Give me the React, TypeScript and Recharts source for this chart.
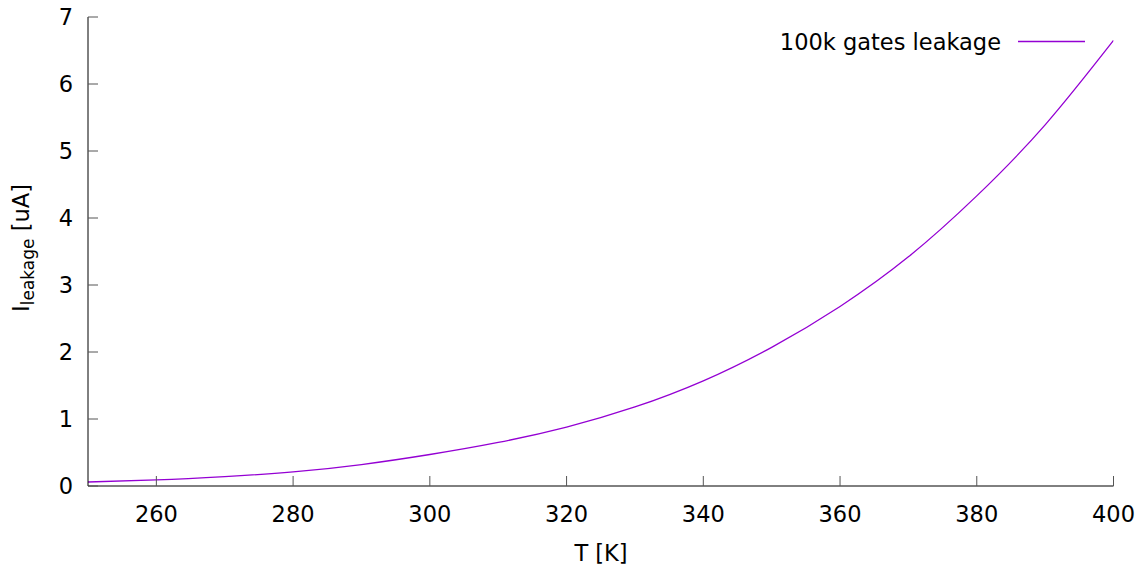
import React from 'react';
import { LineChart, Line, XAxis, YAxis } from 'recharts';

const temperatures = [250, 260, 270, 280, 290, 300, 310, 320, 330, 340, 350, 360, 370, 380, 390, 400];
const leakage = [0.06, 0.09, 0.14, 0.21, 0.32, 0.47, 0.65, 0.88, 1.18, 1.57, 2.07, 2.68, 3.42, 4.33, 5.39, 6.65];
const xTicks = [260, 280, 300, 320, 340, 360, 380, 400];
const yTicks = [0, 1, 2, 3, 4, 5, 6, 7];
const seriesName = '100k gates leakage';
const xLabel = 'T [K]';

const data = temperatures.map((t, i) => ({ T: t, I: leakage[i] }));

const FONT = '"DejaVu Sans", sans-serif';
const FS = 22.5;
const LINE_COLOR = '#9400D3';

const XTick = (props: any) => {
  const { x, y, payload } = props;
  return (
    <g>
      <line x1={x} x2={x} y1={y} y2={y - 10} stroke="#555" strokeWidth={1} />
      <text x={x} y={y + 36} textAnchor="middle" fontSize={FS} fontFamily={FONT} fill="#000">
        {payload.value}
      </text>
    </g>
  );
};

const YTick = (props: any) => {
  const { x, y, payload } = props;
  return (
    <g>
      <line x1={x} x2={x + 10} y1={y} y2={y} stroke="#555" strokeWidth={1} />
      <text x={x - 15} y={y + 8} textAnchor="end" fontSize={FS} fontFamily={FONT} fill="#000">
        {payload.value}
      </text>
    </g>
  );
};

const YLabel = () => (
  <text
    x={29}
    y={248}
    transform="rotate(-90, 29, 248)"
    textAnchor="middle"
    fontSize={FS}
    fontFamily={FONT}
    fill="#000"
  >
    I
    <tspan fontSize={17} dy={5}>leakage</tspan>
    <tspan fontSize={FS} dy={-5}> [uA]</tspan>
  </text>
);

const XLabel = () => (
  <text x={601} y={561} textAnchor="middle" fontSize={FS} fontFamily={FONT} fill="#000">
    {xLabel}
  </text>
);

const LegendKey = () => (
  <g>
    <text x={1001} y={49.5} textAnchor="end" fontSize={FS} fontFamily={FONT} fill="#000">
      {seriesName}
    </text>
    <line x1={1018} x2={1085} y1={41.5} y2={41.5} stroke={LINE_COLOR} strokeWidth={1.3} />
  </g>
);

export default function App() {
  return (
    <div style={{ position: 'absolute', left: 0, top: 0, width: 1147, height: 570, background: '#fff' }}>
      <LineChart width={1147} height={570} data={data} margin={{ top: 17, right: 33.5, bottom: 0, left: 0 }}>
        <XAxis
          dataKey="T"
          type="number"
          domain={[250, 400]}
          ticks={xTicks}
          allowDataOverflow
          height={84}
          tickSize={0}
          tickMargin={0}
          tickLine={false}
          tick={<XTick />}
          axisLine={{ stroke: '#000', strokeWidth: 1 }}
          interval={0}
        />
        <YAxis
          type="number"
          domain={[0, 7]}
          ticks={yTicks}
          allowDataOverflow
          width={88}
          tickSize={0}
          tickMargin={0}
          tickLine={false}
          tick={<YTick />}
          axisLine={{ stroke: '#000', strokeWidth: 1 }}
          interval={0}
        />
        <Line
          type="natural"
          dataKey="I"
          name={seriesName}
          stroke={LINE_COLOR}
          strokeWidth={1.3}
          dot={false}
          isAnimationActive={false}
        />
        <YLabel />
        <XLabel />
        <LegendKey />
      </LineChart>
    </div>
  );
}
